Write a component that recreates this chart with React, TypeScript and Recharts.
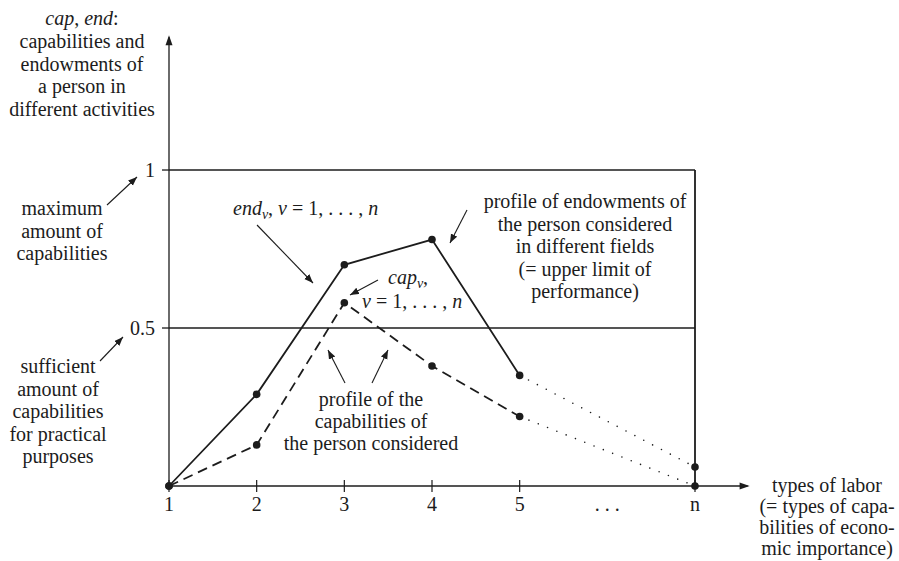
import { ComposedChart, Line, XAxis, YAxis, ReferenceLine, ReferenceDot } from "recharts";

// types of labor 1..5, then "..." and n (n sits at position 7)
const positions = [1, 2, 3, 4, 5, 7];
const endowments = [0, 0.29, 0.7, 0.78, 0.35, 0.06];
const capabilities = [0, 0.13, 0.58, 0.38, 0.22, 0];
const xTicks = [1, 2, 3, 4, 5, 6, 7];
const xTickLabels = ["1", "2", "3", "4", "5", ". . .", "n"];
const yTicks = [0.5, 1];
const maxLevel = 1;
const sufficientLevel = 0.5;

// last listed type ("5"); from here on the profiles are only sketched (dotted)
const lastListed = 4;

const rows = positions.map((x, i) => ({
  x,
  end: i <= lastListed ? endowments[i] : null,
  endRest: i >= lastListed ? endowments[i] : null,
  cap: i <= lastListed ? capabilities[i] : null,
  capRest: i >= lastListed ? capabilities[i] : null,
}));

const INK = "#1c1c1c";
const FONT = "Liberation Serif, DejaVu Serif, serif";
const TXT = { fontFamily: FONT, fontSize: 20, fill: INK };
const W = 899;
const H = 561;

function dotAt(show: (i: number) => boolean, name: string) {
  return (p: any) => {
    if (p.cy == null || p.value == null || !show(p.index)) return <g key={`${name}-${p.index}`} />;
    return <circle key={`${name}-${p.index}`} cx={p.cx} cy={p.cy} r={3.8} fill={INK} />;
  };
}

function XTick(p: any) {
  const { x, y, payload } = p;
  const label = xTickLabels[xTicks.indexOf(payload.value)];
  return (
    <g>
      {payload.value !== 6 && <line x1={x} x2={x} y1={y - 6} y2={y + 6} stroke={INK} strokeWidth={1.2} />}
      <text x={x} y={y + 25} textAnchor="middle" style={TXT}>
        {label}
      </text>
    </g>
  );
}

function Arrow({ x1, y1, x2, y2 }: { x1: number; y1: number; x2: number; y2: number }) {
  return <line x1={x1} y1={y1} x2={x2} y2={y2} stroke={INK} strokeWidth={1.1} markerEnd="url(#head)" />;
}

function Lines({ x, y, lines, step = 22.5 }: { x: number; y: number; lines: string[]; step?: number }) {
  return (
    <text x={x} textAnchor="middle" style={TXT}>
      {lines.map((l, i) => (
        <tspan key={i} x={x} y={y + i * step}>
          {l}
        </tspan>
      ))}
    </text>
  );
}

function Notes() {
  const it = { fontStyle: "italic" as const };
  return (
    <svg width={W} height={H} style={{ position: "absolute", left: 0, top: 0, pointerEvents: "none" }}>
      <defs>
        <marker id="head" markerUnits="userSpaceOnUse" markerWidth={10} markerHeight={8} refX={9} refY={3.5} orient="auto">
          <path d="M0,0 L9,3.5 L0,7 Z" fill={INK} />
        </marker>
      </defs>
      <text x={82} y={25} textAnchor="middle" style={TXT}>
        <tspan style={it}>cap</tspan>, <tspan style={it}>end</tspan>:
      </text>
      <Lines x={82} y={48} lines={["capabilities and", "endowments of", "a person in", "different activities"]} />
      <Lines x={62} y={215} lines={["maximum", "amount of", "capabilities"]} />
      <Lines x={58} y={373} lines={["sufficient", "amount of", "capabilities", "for practical", "purposes"]} />
      <Arrow x1={107} y1={205} x2={137} y2={177} />
      <Arrow x1={100} y1={361} x2={123} y2={337} />

      <text x={233} y={215} style={TXT}>
        <tspan style={it}>end</tspan>
        <tspan style={{ ...it, fontSize: 14 }} dy={4}>ν</tspan>
        <tspan dy={-4}>, </tspan>
        <tspan style={it}>ν</tspan>
        <tspan> = 1, . . . , </tspan>
        <tspan style={it}>n</tspan>
      </text>
      <Arrow x1={257} y1={225} x2={313} y2={283} />

      <text x={388} y={284} style={TXT}>
        <tspan style={it}>cap</tspan>
        <tspan style={{ ...it, fontSize: 14 }} dy={4}>ν</tspan>
        <tspan dy={-4}>,</tspan>
      </text>
      <text x={362} y={308} style={TXT}>
        <tspan style={it}>ν</tspan>
        <tspan> = 1, . . . , </tspan>
        <tspan style={it}>n</tspan>
      </text>
      <Arrow x1={378} y1={280} x2={350} y2={295} />

      <Lines
        x={585}
        y={208}
        lines={["profile of endowments of", "the person considered", "in different fields", "(= upper limit of", "performance)"]}
      />
      <Arrow x1={467} y1={210} x2={450} y2={243} />

      <Lines x={371} y={406} step={22} lines={["profile of the", "capabilities of", "the person considered"]} />
      <Arrow x1={345} y1={383} x2={328} y2={350} />
      <Arrow x1={372} y1={383} x2={388} y2={350} />

      <Lines x={827} y={492} step={21} lines={["types of labor", "(= types of capa-", "bilities of econo-", "mic importance)"]} />
    </svg>
  );
}

export default function App() {
  return (
    <div style={{ position: "absolute", left: 0, top: 0, width: W, height: H, background: "#fff", fontFamily: FONT }}>
      <ComposedChart width={W} height={H} data={rows} margin={{ top: 37.3, right: 151.4, bottom: 45, left: 109 }}>
        <XAxis
          dataKey="x"
          type="number"
          domain={[1, 7.6]}
          ticks={xTicks}
          interval={0}
          height={30}
          tickSize={0}
          tickMargin={0}
          tickLine={false}
          tick={(p: any) => <XTick {...p} />}
          axisLine={{ stroke: INK, strokeWidth: 1.3 }}
        />
        <YAxis
          type="number"
          domain={[0, 1.42]}
          ticks={yTicks}
          interval={0}
          width={60}
          tickSize={7}
          tickMargin={7}
          tickLine={{ stroke: INK, strokeWidth: 1.3 }}
          axisLine={{ stroke: INK, strokeWidth: 1.3 }}
          tick={{ fontSize: 20, fontFamily: FONT, fill: INK, style: { fontFamily: FONT } }}
        />
        <ReferenceLine segment={[{ x: 1, y: maxLevel }, { x: 7, y: maxLevel }]} stroke={INK} strokeWidth={1.6} ifOverflow="visible" />
        <ReferenceLine
          segment={[{ x: 1, y: sufficientLevel }, { x: 7, y: sufficientLevel }]}
          stroke={INK}
          strokeWidth={1.6}
          ifOverflow="visible"
        />
        <ReferenceLine segment={[{ x: 7, y: 0 }, { x: 7, y: maxLevel }]} stroke={INK} strokeWidth={1.8} ifOverflow="visible" />
        <ReferenceDot
          x={7.6}
          y={0}
          ifOverflow="visible"
          shape={(p: any) => <path d={`M${p.cx + 2},${p.cy} L${p.cx - 8},${p.cy - 3.5} L${p.cx - 8},${p.cy + 3.5} Z`} fill={INK} />}
        />
        <ReferenceDot
          x={1}
          y={1.42}
          ifOverflow="visible"
          shape={(p: any) => <path d={`M${p.cx},${p.cy - 2} L${p.cx - 3.5},${p.cy + 8} L${p.cx + 3.5},${p.cy + 8} Z`} fill={INK} />}
        />
        <Line
          dataKey="endRest"
          stroke={INK}
          strokeWidth={1.6}
          strokeDasharray="0 10"
          strokeLinecap="round"
          dot={dotAt((i) => i > lastListed, "endRest")}
          activeDot={false}
          isAnimationActive={false}
        />
        <Line
          dataKey="capRest"
          stroke={INK}
          strokeWidth={1.6}
          strokeDasharray="0 10"
          strokeLinecap="round"
          dot={dotAt((i) => i > lastListed, "capRest")}
          activeDot={false}
          isAnimationActive={false}
        />
        <Line
          dataKey="cap"
          stroke={INK}
          strokeWidth={1.8}
          strokeDasharray="10 6"
          dot={dotAt(() => true, "cap")}
          activeDot={false}
          isAnimationActive={false}
        />
        <Line
          dataKey="end"
          stroke={INK}
          strokeWidth={1.8}
          dot={dotAt(() => true, "end")}
          activeDot={false}
          isAnimationActive={false}
        />
      </ComposedChart>
      <Notes />
    </div>
  );
}
